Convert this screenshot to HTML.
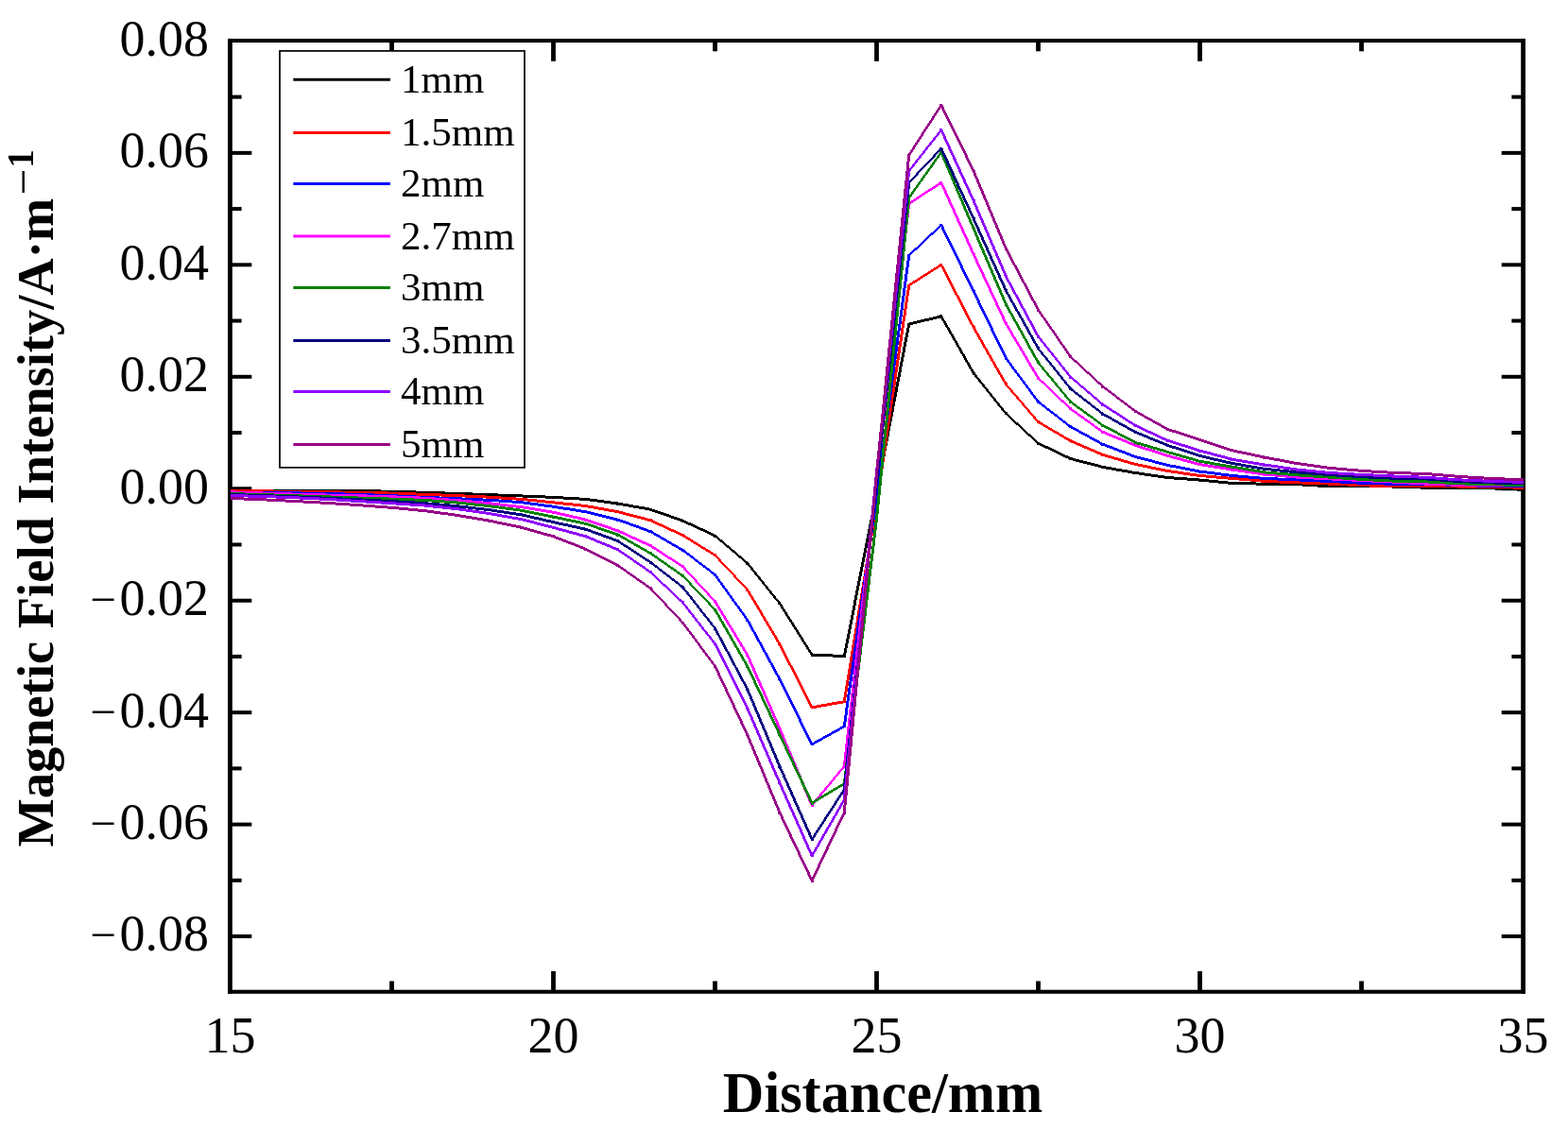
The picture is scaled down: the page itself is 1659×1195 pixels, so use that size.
<!DOCTYPE html>
<html><head><meta charset="utf-8"><style>
html,body{margin:0;padding:0;background:#fff;width:1659px;height:1195px;overflow:hidden}
svg{display:block}
text{font-family:"Liberation Serif","Times New Roman",serif;fill:#000}
.tk{font-size:54px}
.tt{font-size:60.3px;font-weight:bold}
.yt{font-size:54.47px;font-weight:bold}
.supm{font-size:49.6px}
.sup1{font-size:39px;font-weight:bold}
.lg{font-size:43px}
.tkm{font-size:49px}
</style></head><body>
<svg width="1659" height="1195" viewBox="0 0 1659 1195">
<rect x="241.0" y="40.95" width="1372.9999999999998" height="4.1" fill="#000"/>
<rect x="241.0" y="1047.7" width="1372.9999999999998" height="4.1" fill="#000"/>
<rect x="241.0" y="40.95" width="4.8" height="1010.85" fill="#000"/>
<rect x="1609.1999999999998" y="40.95" width="4.8" height="1010.85" fill="#000"/>
<rect x="243.4" y="989.08" width="22.9" height="4" fill="#000"/>
<rect x="1588.6999999999998" y="989.08" width="22.9" height="4" fill="#000"/>
<rect x="243.4" y="929.8500000000001" width="12.2" height="4" fill="#000"/>
<rect x="1599.3999999999999" y="929.8500000000001" width="12.2" height="4" fill="#000"/>
<rect x="243.4" y="870.62" width="22.9" height="4" fill="#000"/>
<rect x="1588.6999999999998" y="870.62" width="22.9" height="4" fill="#000"/>
<rect x="243.4" y="811.39" width="12.2" height="4" fill="#000"/>
<rect x="1599.3999999999999" y="811.39" width="12.2" height="4" fill="#000"/>
<rect x="243.4" y="752.16" width="22.9" height="4" fill="#000"/>
<rect x="1588.6999999999998" y="752.16" width="22.9" height="4" fill="#000"/>
<rect x="243.4" y="692.93" width="12.2" height="4" fill="#000"/>
<rect x="1599.3999999999999" y="692.93" width="12.2" height="4" fill="#000"/>
<rect x="243.4" y="633.7" width="22.9" height="4" fill="#000"/>
<rect x="1588.6999999999998" y="633.7" width="22.9" height="4" fill="#000"/>
<rect x="243.4" y="574.4699999999999" width="12.2" height="4" fill="#000"/>
<rect x="1599.3999999999999" y="574.4699999999999" width="12.2" height="4" fill="#000"/>
<rect x="243.4" y="515.24" width="22.9" height="4" fill="#000"/>
<rect x="1588.6999999999998" y="515.24" width="22.9" height="4" fill="#000"/>
<rect x="243.4" y="456.01" width="12.2" height="4" fill="#000"/>
<rect x="1599.3999999999999" y="456.01" width="12.2" height="4" fill="#000"/>
<rect x="243.4" y="396.78" width="22.9" height="4" fill="#000"/>
<rect x="1588.6999999999998" y="396.78" width="22.9" height="4" fill="#000"/>
<rect x="243.4" y="337.55" width="12.2" height="4" fill="#000"/>
<rect x="1599.3999999999999" y="337.55" width="12.2" height="4" fill="#000"/>
<rect x="243.4" y="278.32" width="22.9" height="4" fill="#000"/>
<rect x="1588.6999999999998" y="278.32" width="22.9" height="4" fill="#000"/>
<rect x="243.4" y="219.09" width="12.2" height="4" fill="#000"/>
<rect x="1599.3999999999999" y="219.09" width="12.2" height="4" fill="#000"/>
<rect x="243.4" y="159.86" width="22.9" height="4" fill="#000"/>
<rect x="1588.6999999999998" y="159.86" width="22.9" height="4" fill="#000"/>
<rect x="243.4" y="100.62999999999997" width="12.2" height="4" fill="#000"/>
<rect x="1599.3999999999999" y="100.62999999999997" width="12.2" height="4" fill="#000"/>
<rect x="412.1" y="1038.45" width="4.8" height="11.3" fill="#000"/>
<rect x="412.1" y="43.0" width="4.8" height="11.3" fill="#000"/>
<rect x="583.1" y="1027.95" width="4.8" height="21.8" fill="#000"/>
<rect x="583.1" y="43.0" width="4.8" height="21.8" fill="#000"/>
<rect x="754.1" y="1038.45" width="4.8" height="11.3" fill="#000"/>
<rect x="754.1" y="43.0" width="4.8" height="11.3" fill="#000"/>
<rect x="925.1" y="1027.95" width="4.8" height="21.8" fill="#000"/>
<rect x="925.1" y="43.0" width="4.8" height="21.8" fill="#000"/>
<rect x="1096.1" y="1038.45" width="4.8" height="11.3" fill="#000"/>
<rect x="1096.1" y="43.0" width="4.8" height="11.3" fill="#000"/>
<rect x="1267.1" y="1027.95" width="4.8" height="21.8" fill="#000"/>
<rect x="1267.1" y="43.0" width="4.8" height="21.8" fill="#000"/>
<rect x="1438.1" y="1038.45" width="4.8" height="11.3" fill="#000"/>
<rect x="1438.1" y="43.0" width="4.8" height="11.3" fill="#000"/>
<path d="M243.50 517.50L277.70 517.53L277.70 520.53L243.50 520.50ZM277.70 517.53L311.90 517.61L311.90 520.61L277.70 520.53ZM311.90 517.61L346.10 517.72L346.10 520.72L311.90 520.61ZM346.10 517.72L380.30 518.09L380.30 521.09L346.10 520.72ZM380.30 518.09L414.50 518.72L414.50 521.72L380.30 521.09ZM414.50 518.72L448.70 519.75L448.70 522.75L414.50 521.72ZM448.70 519.75L482.90 520.88L482.90 523.88L448.70 522.75ZM482.90 520.88L517.10 522.11L517.10 525.11L482.90 523.88ZM517.10 522.11L551.30 523.43L551.30 526.43L517.10 525.11ZM551.30 523.43L585.50 524.87L585.50 527.87L551.30 526.43ZM585.50 524.87L619.70 526.90L619.70 529.90L585.50 527.87ZM619.70 526.90L653.90 531.50L653.90 534.50L619.70 529.90ZM653.90 531.50L688.10 537.70L688.10 540.70L653.90 534.50ZM688.10 537.70L722.30 549.70L722.30 552.70L688.10 540.70ZM722.30 549.70L756.50 565.50L756.50 568.50L722.30 552.70ZM756.50 565.50L790.70 594.50L790.70 597.50L756.50 568.50ZM792.20 596.00L826.40 638.60L823.40 638.60L789.20 596.00ZM826.40 638.60L860.60 693.00L857.60 693.00L823.40 638.60ZM859.10 691.50L893.30 693.10L893.30 696.10L859.10 694.50ZM891.80 694.60L926.00 522.00L929.00 522.00L894.80 694.60ZM926.00 522.00L960.20 343.00L963.20 343.00L929.00 522.00ZM961.70 341.50L995.90 333.30L995.90 336.30L961.70 344.50ZM997.40 334.80L1031.60 395.00L1028.60 395.00L994.40 334.80ZM1031.60 395.00L1065.80 437.80L1062.80 437.80L1028.60 395.00ZM1064.30 436.30L1098.50 467.70L1098.50 470.70L1064.30 439.30ZM1098.50 467.70L1132.70 484.00L1132.70 487.00L1098.50 470.70ZM1132.70 484.00L1166.90 492.90L1166.90 495.90L1132.70 487.00ZM1166.90 492.90L1201.10 499.00L1201.10 502.00L1166.90 495.90ZM1201.10 499.00L1235.30 504.00L1235.30 507.00L1201.10 502.00ZM1235.30 504.00L1269.50 506.50L1269.50 509.50L1235.30 507.00ZM1269.50 506.50L1303.70 510.00L1303.70 513.00L1269.50 509.50ZM1303.70 510.00L1337.90 510.70L1337.90 513.70L1303.70 513.00ZM1337.90 510.70L1372.10 511.10L1372.10 514.10L1337.90 513.70ZM1372.10 511.10L1406.30 513.30L1406.30 516.30L1372.10 514.10ZM1406.30 513.30L1440.50 513.40L1440.50 516.40L1406.30 516.30ZM1440.50 513.40L1474.70 513.50L1474.70 516.50L1440.50 516.40ZM1474.70 513.50L1508.90 514.70L1508.90 517.70L1474.70 516.50ZM1508.90 514.70L1543.10 514.70L1543.10 517.70L1508.90 517.70ZM1543.10 514.70L1577.30 515.31L1577.30 518.31L1543.10 517.70ZM1577.30 515.31L1611.50 516.80L1611.50 519.80L1577.30 518.31ZM276.20 517.53L279.20 517.53L279.20 520.53L276.20 520.53ZM310.40 517.61L313.40 517.61L313.40 520.61L310.40 520.61ZM344.60 517.72L347.60 517.72L347.60 520.72L344.60 520.72ZM378.80 518.09L381.80 518.09L381.80 521.09L378.80 521.09ZM413.00 518.72L416.00 518.72L416.00 521.72L413.00 521.72ZM447.20 519.75L450.20 519.75L450.20 522.75L447.20 522.75ZM481.40 520.88L484.40 520.88L484.40 523.88L481.40 523.88ZM515.60 522.11L518.60 522.11L518.60 525.11L515.60 525.11ZM549.80 523.43L552.80 523.43L552.80 526.43L549.80 526.43ZM584.00 524.87L587.00 524.87L587.00 527.87L584.00 527.87ZM618.20 526.90L621.20 526.90L621.20 529.90L618.20 529.90ZM652.40 531.50L655.40 531.50L655.40 534.50L652.40 534.50ZM686.60 537.70L689.60 537.70L689.60 540.70L686.60 540.70ZM720.80 549.70L723.80 549.70L723.80 552.70L720.80 552.70ZM755.00 565.50L758.00 565.50L758.00 568.50L755.00 568.50ZM789.20 594.50L792.20 594.50L792.20 597.50L789.20 597.50ZM823.40 637.10L826.40 637.10L826.40 640.10L823.40 640.10ZM857.60 691.50L860.60 691.50L860.60 694.50L857.60 694.50ZM891.80 693.10L894.80 693.10L894.80 696.10L891.80 696.10ZM926.00 520.50L929.00 520.50L929.00 523.50L926.00 523.50ZM960.20 341.50L963.20 341.50L963.20 344.50L960.20 344.50ZM994.40 333.30L997.40 333.30L997.40 336.30L994.40 336.30ZM1028.60 393.50L1031.60 393.50L1031.60 396.50L1028.60 396.50ZM1062.80 436.30L1065.80 436.30L1065.80 439.30L1062.80 439.30ZM1097.00 467.70L1100.00 467.70L1100.00 470.70L1097.00 470.70ZM1131.20 484.00L1134.20 484.00L1134.20 487.00L1131.20 487.00ZM1165.40 492.90L1168.40 492.90L1168.40 495.90L1165.40 495.90ZM1199.60 499.00L1202.60 499.00L1202.60 502.00L1199.60 502.00ZM1233.80 504.00L1236.80 504.00L1236.80 507.00L1233.80 507.00ZM1268.00 506.50L1271.00 506.50L1271.00 509.50L1268.00 509.50ZM1302.20 510.00L1305.20 510.00L1305.20 513.00L1302.20 513.00ZM1336.40 510.70L1339.40 510.70L1339.40 513.70L1336.40 513.70ZM1370.60 511.10L1373.60 511.10L1373.60 514.10L1370.60 514.10ZM1404.80 513.30L1407.80 513.30L1407.80 516.30L1404.80 516.30ZM1439.00 513.40L1442.00 513.40L1442.00 516.40L1439.00 516.40ZM1473.20 513.50L1476.20 513.50L1476.20 516.50L1473.20 516.50ZM1507.40 514.70L1510.40 514.70L1510.40 517.70L1507.40 517.70ZM1541.60 514.70L1544.60 514.70L1544.60 517.70L1541.60 517.70ZM1575.80 515.31L1578.80 515.31L1578.80 518.31L1575.80 518.31Z" fill="#000000" shape-rendering="crispEdges"/>
<path d="M243.50 518.00L277.70 518.36L277.70 521.36L243.50 521.00ZM277.70 518.36L311.90 518.80L311.90 521.80L277.70 521.36ZM311.90 518.80L346.10 519.28L346.10 522.28L311.90 521.80ZM346.10 519.28L380.30 519.80L380.30 522.80L346.10 522.28ZM380.30 519.80L414.50 520.59L414.50 523.59L380.30 522.80ZM414.50 520.59L448.70 521.80L448.70 524.80L414.50 523.59ZM448.70 521.80L482.90 523.10L482.90 526.10L448.70 524.80ZM482.90 523.10L517.10 524.66L517.10 527.66L482.90 526.10ZM517.10 524.66L551.30 526.82L551.30 529.82L517.10 527.66ZM551.30 526.82L585.50 530.35L585.50 533.35L551.30 529.82ZM585.50 530.35L619.70 534.00L619.70 537.00L585.50 533.35ZM619.70 534.00L653.90 540.30L653.90 543.30L619.70 537.00ZM653.90 540.30L688.10 549.20L688.10 552.20L653.90 543.30ZM688.10 549.20L722.30 565.00L722.30 568.00L688.10 552.20ZM722.30 565.00L756.50 586.20L756.50 589.20L722.30 568.00ZM758.00 587.70L792.20 624.00L789.20 624.00L755.00 587.70ZM792.20 624.00L826.40 681.70L823.40 681.70L789.20 624.00ZM826.40 681.70L860.60 748.80L857.60 748.80L823.40 681.70ZM859.10 747.30L893.30 741.20L893.30 744.20L859.10 750.30ZM891.80 742.70L926.00 533.00L929.00 533.00L894.80 742.70ZM926.00 533.00L960.20 302.00L963.20 302.00L929.00 533.00ZM961.70 300.50L995.90 278.80L995.90 281.80L961.70 303.50ZM997.40 280.30L1031.60 346.60L1028.60 346.60L994.40 280.30ZM1031.60 346.60L1065.80 406.70L1062.80 406.70L1028.60 346.60ZM1065.80 406.70L1100.00 446.60L1097.00 446.60L1062.80 406.70ZM1098.50 445.10L1132.70 465.20L1132.70 468.20L1098.50 448.10ZM1132.70 465.20L1166.90 479.90L1166.90 482.90L1132.70 468.20ZM1166.90 479.90L1201.10 489.90L1201.10 492.90L1166.90 482.90ZM1201.10 489.90L1235.30 497.00L1235.30 500.00L1201.10 492.90ZM1235.30 497.00L1269.50 502.00L1269.50 505.00L1235.30 500.00ZM1269.50 502.00L1303.70 504.90L1303.70 507.90L1269.50 505.00ZM1303.70 504.90L1337.90 507.80L1337.90 510.80L1303.70 507.90ZM1337.90 507.80L1372.10 509.30L1372.10 512.30L1337.90 510.80ZM1372.10 509.30L1406.30 510.50L1406.30 513.50L1372.10 512.30ZM1406.30 510.50L1440.50 512.22L1440.50 515.22L1406.30 513.50ZM1440.50 512.22L1474.70 513.30L1474.70 516.30L1440.50 515.22ZM1474.70 513.30L1508.90 513.00L1508.90 516.00L1474.70 516.30ZM1508.90 513.00L1543.10 513.50L1543.10 516.50L1508.90 516.00ZM1543.10 513.50L1577.30 514.07L1577.30 517.07L1543.10 516.50ZM1577.30 514.07L1611.50 514.70L1611.50 517.70L1577.30 517.07ZM276.20 518.36L279.20 518.36L279.20 521.36L276.20 521.36ZM310.40 518.80L313.40 518.80L313.40 521.80L310.40 521.80ZM344.60 519.28L347.60 519.28L347.60 522.28L344.60 522.28ZM378.80 519.80L381.80 519.80L381.80 522.80L378.80 522.80ZM413.00 520.59L416.00 520.59L416.00 523.59L413.00 523.59ZM447.20 521.80L450.20 521.80L450.20 524.80L447.20 524.80ZM481.40 523.10L484.40 523.10L484.40 526.10L481.40 526.10ZM515.60 524.66L518.60 524.66L518.60 527.66L515.60 527.66ZM549.80 526.82L552.80 526.82L552.80 529.82L549.80 529.82ZM584.00 530.35L587.00 530.35L587.00 533.35L584.00 533.35ZM618.20 534.00L621.20 534.00L621.20 537.00L618.20 537.00ZM652.40 540.30L655.40 540.30L655.40 543.30L652.40 543.30ZM686.60 549.20L689.60 549.20L689.60 552.20L686.60 552.20ZM720.80 565.00L723.80 565.00L723.80 568.00L720.80 568.00ZM755.00 586.20L758.00 586.20L758.00 589.20L755.00 589.20ZM789.20 622.50L792.20 622.50L792.20 625.50L789.20 625.50ZM823.40 680.20L826.40 680.20L826.40 683.20L823.40 683.20ZM857.60 747.30L860.60 747.30L860.60 750.30L857.60 750.30ZM891.80 741.20L894.80 741.20L894.80 744.20L891.80 744.20ZM926.00 531.50L929.00 531.50L929.00 534.50L926.00 534.50ZM960.20 300.50L963.20 300.50L963.20 303.50L960.20 303.50ZM994.40 278.80L997.40 278.80L997.40 281.80L994.40 281.80ZM1028.60 345.10L1031.60 345.10L1031.60 348.10L1028.60 348.10ZM1062.80 405.20L1065.80 405.20L1065.80 408.20L1062.80 408.20ZM1097.00 445.10L1100.00 445.10L1100.00 448.10L1097.00 448.10ZM1131.20 465.20L1134.20 465.20L1134.20 468.20L1131.20 468.20ZM1165.40 479.90L1168.40 479.90L1168.40 482.90L1165.40 482.90ZM1199.60 489.90L1202.60 489.90L1202.60 492.90L1199.60 492.90ZM1233.80 497.00L1236.80 497.00L1236.80 500.00L1233.80 500.00ZM1268.00 502.00L1271.00 502.00L1271.00 505.00L1268.00 505.00ZM1302.20 504.90L1305.20 504.90L1305.20 507.90L1302.20 507.90ZM1336.40 507.80L1339.40 507.80L1339.40 510.80L1336.40 510.80ZM1370.60 509.30L1373.60 509.30L1373.60 512.30L1370.60 512.30ZM1404.80 510.50L1407.80 510.50L1407.80 513.50L1404.80 513.50ZM1439.00 512.22L1442.00 512.22L1442.00 515.22L1439.00 515.22ZM1473.20 513.30L1476.20 513.30L1476.20 516.30L1473.20 516.30ZM1507.40 513.00L1510.40 513.00L1510.40 516.00L1507.40 516.00ZM1541.60 513.50L1544.60 513.50L1544.60 516.50L1541.60 516.50ZM1575.80 514.07L1578.80 514.07L1578.80 517.07L1575.80 517.07Z" fill="#FF0000" shape-rendering="crispEdges"/>
<path d="M243.50 519.50L277.70 519.83L277.70 522.83L243.50 522.50ZM277.70 519.83L311.90 520.36L311.90 523.36L277.70 522.83ZM311.90 520.36L346.10 521.01L346.10 524.01L311.90 523.36ZM346.10 521.01L380.30 521.93L380.30 524.93L346.10 524.01ZM380.30 521.93L414.50 523.21L414.50 526.21L380.30 524.93ZM414.50 523.21L448.70 524.87L448.70 527.87L414.50 526.21ZM448.70 524.87L482.90 526.24L482.90 529.24L448.70 527.87ZM482.90 526.24L517.10 527.76L517.10 530.76L482.90 529.24ZM517.10 527.76L551.30 530.16L551.30 533.16L517.10 530.76ZM551.30 530.16L585.50 534.71L585.50 537.71L551.30 533.16ZM585.50 534.71L619.70 540.30L619.70 543.30L585.50 537.71ZM619.70 540.30L653.90 548.60L653.90 551.60L619.70 543.30ZM653.90 548.60L688.10 561.10L688.10 564.10L653.90 551.60ZM688.10 561.10L722.30 580.70L722.30 583.70L688.10 564.10ZM722.30 580.70L756.50 606.80L756.50 609.80L722.30 583.70ZM758.00 608.30L792.20 656.00L789.20 656.00L755.00 608.30ZM792.20 656.00L826.40 718.80L823.40 718.80L789.20 656.00ZM826.40 718.80L860.60 787.90L857.60 787.90L823.40 718.80ZM859.10 786.40L893.30 767.30L893.30 770.30L859.10 789.40ZM891.80 768.80L926.00 525.00L929.00 525.00L894.80 768.80ZM926.00 525.00L960.20 270.40L963.20 270.40L929.00 525.00ZM961.70 268.90L995.90 236.70L995.90 239.70L961.70 271.90ZM997.40 238.20L1031.60 308.30L1028.60 308.30L994.40 238.20ZM1031.60 308.30L1065.80 379.10L1062.80 379.10L1028.60 308.30ZM1065.80 379.10L1100.00 425.30L1097.00 425.30L1062.80 379.10ZM1098.50 423.80L1132.70 450.20L1132.70 453.20L1098.50 426.80ZM1132.70 450.20L1166.90 468.80L1166.90 471.80L1132.70 453.20ZM1166.90 468.80L1201.10 481.90L1201.10 484.90L1166.90 471.80ZM1201.10 481.90L1235.30 490.90L1235.30 493.90L1201.10 484.90ZM1235.30 490.90L1269.50 497.50L1269.50 500.50L1235.30 493.90ZM1269.50 497.50L1303.70 502.00L1303.70 505.00L1269.50 500.50ZM1303.70 502.00L1337.90 504.90L1337.90 507.90L1303.70 505.00ZM1337.90 504.90L1372.10 506.40L1372.10 509.40L1337.90 507.90ZM1372.10 506.40L1406.30 507.90L1406.30 510.90L1372.10 509.40ZM1406.30 507.90L1440.50 509.72L1440.50 512.72L1406.30 510.90ZM1440.50 509.72L1474.70 510.80L1474.70 513.80L1440.50 512.72ZM1474.70 510.80L1508.90 510.50L1508.90 513.50L1474.70 513.80ZM1508.90 510.50L1543.10 512.20L1543.10 515.20L1508.90 513.50ZM1543.10 512.20L1577.30 512.77L1577.30 515.77L1543.10 515.20ZM1577.30 512.77L1611.50 513.00L1611.50 516.00L1577.30 515.77ZM276.20 519.83L279.20 519.83L279.20 522.83L276.20 522.83ZM310.40 520.36L313.40 520.36L313.40 523.36L310.40 523.36ZM344.60 521.01L347.60 521.01L347.60 524.01L344.60 524.01ZM378.80 521.93L381.80 521.93L381.80 524.93L378.80 524.93ZM413.00 523.21L416.00 523.21L416.00 526.21L413.00 526.21ZM447.20 524.87L450.20 524.87L450.20 527.87L447.20 527.87ZM481.40 526.24L484.40 526.24L484.40 529.24L481.40 529.24ZM515.60 527.76L518.60 527.76L518.60 530.76L515.60 530.76ZM549.80 530.16L552.80 530.16L552.80 533.16L549.80 533.16ZM584.00 534.71L587.00 534.71L587.00 537.71L584.00 537.71ZM618.20 540.30L621.20 540.30L621.20 543.30L618.20 543.30ZM652.40 548.60L655.40 548.60L655.40 551.60L652.40 551.60ZM686.60 561.10L689.60 561.10L689.60 564.10L686.60 564.10ZM720.80 580.70L723.80 580.70L723.80 583.70L720.80 583.70ZM755.00 606.80L758.00 606.80L758.00 609.80L755.00 609.80ZM789.20 654.50L792.20 654.50L792.20 657.50L789.20 657.50ZM823.40 717.30L826.40 717.30L826.40 720.30L823.40 720.30ZM857.60 786.40L860.60 786.40L860.60 789.40L857.60 789.40ZM891.80 767.30L894.80 767.30L894.80 770.30L891.80 770.30ZM926.00 523.50L929.00 523.50L929.00 526.50L926.00 526.50ZM960.20 268.90L963.20 268.90L963.20 271.90L960.20 271.90ZM994.40 236.70L997.40 236.70L997.40 239.70L994.40 239.70ZM1028.60 306.80L1031.60 306.80L1031.60 309.80L1028.60 309.80ZM1062.80 377.60L1065.80 377.60L1065.80 380.60L1062.80 380.60ZM1097.00 423.80L1100.00 423.80L1100.00 426.80L1097.00 426.80ZM1131.20 450.20L1134.20 450.20L1134.20 453.20L1131.20 453.20ZM1165.40 468.80L1168.40 468.80L1168.40 471.80L1165.40 471.80ZM1199.60 481.90L1202.60 481.90L1202.60 484.90L1199.60 484.90ZM1233.80 490.90L1236.80 490.90L1236.80 493.90L1233.80 493.90ZM1268.00 497.50L1271.00 497.50L1271.00 500.50L1268.00 500.50ZM1302.20 502.00L1305.20 502.00L1305.20 505.00L1302.20 505.00ZM1336.40 504.90L1339.40 504.90L1339.40 507.90L1336.40 507.90ZM1370.60 506.40L1373.60 506.40L1373.60 509.40L1370.60 509.40ZM1404.80 507.90L1407.80 507.90L1407.80 510.90L1404.80 510.90ZM1439.00 509.72L1442.00 509.72L1442.00 512.72L1439.00 512.72ZM1473.20 510.80L1476.20 510.80L1476.20 513.80L1473.20 513.80ZM1507.40 510.50L1510.40 510.50L1510.40 513.50L1507.40 513.50ZM1541.60 512.20L1544.60 512.20L1544.60 515.20L1541.60 515.20ZM1575.80 512.77L1578.80 512.77L1578.80 515.77L1575.80 515.77Z" fill="#0000FF" shape-rendering="crispEdges"/>
<path d="M243.50 519.30L277.70 520.51L277.70 523.51L243.50 522.30ZM277.70 520.51L311.90 521.59L311.90 524.59L277.70 523.51ZM311.90 521.59L346.10 522.54L346.10 525.54L311.90 524.59ZM346.10 522.54L380.30 523.30L380.30 526.30L346.10 525.54ZM380.30 523.30L414.50 524.25L414.50 527.25L380.30 526.30ZM414.50 524.25L448.70 525.73L448.70 528.73L414.50 527.25ZM448.70 525.73L482.90 528.05L482.90 531.05L448.70 528.73ZM482.90 528.05L517.10 531.18L517.10 534.18L482.90 531.05ZM517.10 531.18L551.30 535.08L551.30 538.08L517.10 534.18ZM551.30 535.08L585.50 540.74L585.50 543.74L551.30 538.08ZM585.50 540.74L619.70 548.60L619.70 551.60L585.50 543.74ZM619.70 548.60L653.90 560.40L653.90 563.40L619.70 551.60ZM653.90 560.40L688.10 576.00L688.10 579.00L653.90 563.40ZM688.10 576.00L722.30 598.10L722.30 601.10L688.10 579.00ZM723.80 599.60L758.00 636.60L755.00 636.60L720.80 599.60ZM758.00 636.60L792.20 693.00L789.20 693.00L755.00 636.60ZM792.20 693.00L826.40 771.00L823.40 771.00L789.20 693.00ZM826.40 771.00L860.60 852.50L857.60 852.50L823.40 771.00ZM857.60 852.50L891.80 811.00L894.80 811.00L860.60 852.50ZM891.80 811.00L926.00 508.00L929.00 508.00L894.80 811.00ZM926.00 508.00L960.20 215.50L963.20 215.50L929.00 508.00ZM961.70 214.00L995.90 191.80L995.90 194.80L961.70 217.00ZM997.40 193.30L1031.60 269.20L1028.60 269.20L994.40 193.30ZM1031.60 269.20L1065.80 342.50L1062.80 342.50L1028.60 269.20ZM1065.80 342.50L1100.00 400.20L1097.00 400.20L1062.80 342.50ZM1098.50 398.70L1132.70 431.30L1132.70 434.30L1098.50 401.70ZM1132.70 431.30L1166.90 455.80L1166.90 458.80L1132.70 434.30ZM1166.90 455.80L1201.10 469.80L1201.10 472.80L1166.90 458.80ZM1201.10 469.80L1235.30 480.90L1235.30 483.90L1201.10 472.80ZM1235.30 480.90L1269.50 490.20L1269.50 493.20L1235.30 483.90ZM1269.50 490.20L1303.70 495.50L1303.70 498.50L1269.50 493.20ZM1303.70 495.50L1337.90 500.60L1337.90 503.60L1303.70 498.50ZM1337.90 500.60L1372.10 503.50L1372.10 506.50L1337.90 503.60ZM1372.10 503.50L1406.30 505.40L1406.30 508.40L1372.10 506.50ZM1406.30 505.40L1440.50 507.00L1440.50 510.00L1406.30 508.40ZM1440.50 507.00L1474.70 508.60L1474.70 511.60L1440.50 510.00ZM1474.70 508.60L1508.90 510.50L1508.90 513.50L1474.70 511.60ZM1508.90 510.50L1543.10 511.80L1543.10 514.80L1508.90 513.50ZM1543.10 511.80L1577.30 512.09L1577.30 515.09L1543.10 514.80ZM1577.30 512.09L1611.50 512.20L1611.50 515.20L1577.30 515.09ZM276.20 520.51L279.20 520.51L279.20 523.51L276.20 523.51ZM310.40 521.59L313.40 521.59L313.40 524.59L310.40 524.59ZM344.60 522.54L347.60 522.54L347.60 525.54L344.60 525.54ZM378.80 523.30L381.80 523.30L381.80 526.30L378.80 526.30ZM413.00 524.25L416.00 524.25L416.00 527.25L413.00 527.25ZM447.20 525.73L450.20 525.73L450.20 528.73L447.20 528.73ZM481.40 528.05L484.40 528.05L484.40 531.05L481.40 531.05ZM515.60 531.18L518.60 531.18L518.60 534.18L515.60 534.18ZM549.80 535.08L552.80 535.08L552.80 538.08L549.80 538.08ZM584.00 540.74L587.00 540.74L587.00 543.74L584.00 543.74ZM618.20 548.60L621.20 548.60L621.20 551.60L618.20 551.60ZM652.40 560.40L655.40 560.40L655.40 563.40L652.40 563.40ZM686.60 576.00L689.60 576.00L689.60 579.00L686.60 579.00ZM720.80 598.10L723.80 598.10L723.80 601.10L720.80 601.10ZM755.00 635.10L758.00 635.10L758.00 638.10L755.00 638.10ZM789.20 691.50L792.20 691.50L792.20 694.50L789.20 694.50ZM823.40 769.50L826.40 769.50L826.40 772.50L823.40 772.50ZM857.60 851.00L860.60 851.00L860.60 854.00L857.60 854.00ZM891.80 809.50L894.80 809.50L894.80 812.50L891.80 812.50ZM926.00 506.50L929.00 506.50L929.00 509.50L926.00 509.50ZM960.20 214.00L963.20 214.00L963.20 217.00L960.20 217.00ZM994.40 191.80L997.40 191.80L997.40 194.80L994.40 194.80ZM1028.60 267.70L1031.60 267.70L1031.60 270.70L1028.60 270.70ZM1062.80 341.00L1065.80 341.00L1065.80 344.00L1062.80 344.00ZM1097.00 398.70L1100.00 398.70L1100.00 401.70L1097.00 401.70ZM1131.20 431.30L1134.20 431.30L1134.20 434.30L1131.20 434.30ZM1165.40 455.80L1168.40 455.80L1168.40 458.80L1165.40 458.80ZM1199.60 469.80L1202.60 469.80L1202.60 472.80L1199.60 472.80ZM1233.80 480.90L1236.80 480.90L1236.80 483.90L1233.80 483.90ZM1268.00 490.20L1271.00 490.20L1271.00 493.20L1268.00 493.20ZM1302.20 495.50L1305.20 495.50L1305.20 498.50L1302.20 498.50ZM1336.40 500.60L1339.40 500.60L1339.40 503.60L1336.40 503.60ZM1370.60 503.50L1373.60 503.50L1373.60 506.50L1370.60 506.50ZM1404.80 505.40L1407.80 505.40L1407.80 508.40L1404.80 508.40ZM1439.00 507.00L1442.00 507.00L1442.00 510.00L1439.00 510.00ZM1473.20 508.60L1476.20 508.60L1476.20 511.60L1473.20 511.60ZM1507.40 510.50L1510.40 510.50L1510.40 513.50L1507.40 513.50ZM1541.60 511.80L1544.60 511.80L1544.60 514.80L1541.60 514.80ZM1575.80 512.09L1578.80 512.09L1578.80 515.09L1575.80 515.09Z" fill="#FF00FF" shape-rendering="crispEdges"/>
<path d="M243.50 521.00L277.70 522.12L277.70 525.12L243.50 524.00ZM277.70 522.12L311.90 523.24L311.90 526.24L277.70 525.12ZM311.90 523.24L346.10 524.38L346.10 527.38L311.90 526.24ZM346.10 524.38L380.30 525.54L380.30 528.54L346.10 527.38ZM380.30 525.54L414.50 526.63L414.50 529.63L380.30 528.54ZM414.50 526.63L448.70 527.91L448.70 530.91L414.50 529.63ZM448.70 527.91L482.90 530.45L482.90 533.45L448.70 530.91ZM482.90 530.45L517.10 534.08L517.10 537.08L482.90 533.45ZM517.10 534.08L551.30 538.66L551.30 541.66L517.10 537.08ZM551.30 538.66L585.50 545.56L585.50 548.56L551.30 541.66ZM585.50 545.56L619.70 552.80L619.70 555.80L585.50 548.56ZM619.70 552.80L653.90 564.50L653.90 567.50L619.70 555.80ZM653.90 564.50L688.10 584.00L688.10 587.00L653.90 567.50ZM688.10 584.00L722.30 607.90L722.30 610.90L688.10 587.00ZM723.80 609.40L758.00 645.30L755.00 645.30L720.80 609.40ZM758.00 645.30L792.20 705.00L789.20 705.00L755.00 645.30ZM792.20 705.00L826.40 777.50L823.40 777.50L789.20 705.00ZM826.40 777.50L860.60 850.00L857.60 850.00L823.40 777.50ZM859.10 848.50L893.30 828.00L893.30 831.00L859.10 851.50ZM891.80 829.50L926.00 549.00L929.00 549.00L894.80 829.50ZM926.00 549.00L960.20 209.40L963.20 209.40L929.00 549.00ZM960.20 209.40L994.40 161.20L997.40 161.20L963.20 209.40ZM997.40 161.20L1031.60 242.00L1028.60 242.00L994.40 161.20ZM1031.60 242.00L1065.80 322.00L1062.80 322.00L1028.60 242.00ZM1065.80 322.00L1100.00 383.90L1097.00 383.90L1062.80 322.00ZM1100.00 383.90L1134.20 425.30L1131.20 425.30L1097.00 383.90ZM1132.70 423.80L1166.90 448.80L1166.90 451.80L1132.70 426.80ZM1166.90 448.80L1201.10 466.80L1201.10 469.80L1166.90 451.80ZM1201.10 466.80L1235.30 476.90L1235.30 479.90L1201.10 469.80ZM1235.30 476.90L1269.50 486.80L1269.50 489.80L1235.30 479.90ZM1269.50 486.80L1303.70 492.60L1303.70 495.60L1269.50 489.80ZM1303.70 492.60L1337.90 498.40L1337.90 501.40L1303.70 495.60ZM1337.90 498.40L1372.10 501.30L1372.10 504.30L1337.90 501.40ZM1372.10 501.30L1406.30 503.60L1406.30 506.60L1372.10 504.30ZM1406.30 503.60L1440.50 505.87L1440.50 508.87L1406.30 506.60ZM1440.50 505.87L1474.70 507.60L1474.70 510.60L1440.50 508.87ZM1474.70 507.60L1508.90 508.40L1508.90 511.40L1474.70 510.60ZM1508.90 508.40L1543.10 510.30L1543.10 513.30L1508.90 511.40ZM1543.10 510.30L1577.30 511.33L1577.30 514.33L1543.10 513.30ZM1577.30 511.33L1611.50 511.80L1611.50 514.80L1577.30 514.33ZM276.20 522.12L279.20 522.12L279.20 525.12L276.20 525.12ZM310.40 523.24L313.40 523.24L313.40 526.24L310.40 526.24ZM344.60 524.38L347.60 524.38L347.60 527.38L344.60 527.38ZM378.80 525.54L381.80 525.54L381.80 528.54L378.80 528.54ZM413.00 526.63L416.00 526.63L416.00 529.63L413.00 529.63ZM447.20 527.91L450.20 527.91L450.20 530.91L447.20 530.91ZM481.40 530.45L484.40 530.45L484.40 533.45L481.40 533.45ZM515.60 534.08L518.60 534.08L518.60 537.08L515.60 537.08ZM549.80 538.66L552.80 538.66L552.80 541.66L549.80 541.66ZM584.00 545.56L587.00 545.56L587.00 548.56L584.00 548.56ZM618.20 552.80L621.20 552.80L621.20 555.80L618.20 555.80ZM652.40 564.50L655.40 564.50L655.40 567.50L652.40 567.50ZM686.60 584.00L689.60 584.00L689.60 587.00L686.60 587.00ZM720.80 607.90L723.80 607.90L723.80 610.90L720.80 610.90ZM755.00 643.80L758.00 643.80L758.00 646.80L755.00 646.80ZM789.20 703.50L792.20 703.50L792.20 706.50L789.20 706.50ZM823.40 776.00L826.40 776.00L826.40 779.00L823.40 779.00ZM857.60 848.50L860.60 848.50L860.60 851.50L857.60 851.50ZM891.80 828.00L894.80 828.00L894.80 831.00L891.80 831.00ZM926.00 547.50L929.00 547.50L929.00 550.50L926.00 550.50ZM960.20 207.90L963.20 207.90L963.20 210.90L960.20 210.90ZM994.40 159.70L997.40 159.70L997.40 162.70L994.40 162.70ZM1028.60 240.50L1031.60 240.50L1031.60 243.50L1028.60 243.50ZM1062.80 320.50L1065.80 320.50L1065.80 323.50L1062.80 323.50ZM1097.00 382.40L1100.00 382.40L1100.00 385.40L1097.00 385.40ZM1131.20 423.80L1134.20 423.80L1134.20 426.80L1131.20 426.80ZM1165.40 448.80L1168.40 448.80L1168.40 451.80L1165.40 451.80ZM1199.60 466.80L1202.60 466.80L1202.60 469.80L1199.60 469.80ZM1233.80 476.90L1236.80 476.90L1236.80 479.90L1233.80 479.90ZM1268.00 486.80L1271.00 486.80L1271.00 489.80L1268.00 489.80ZM1302.20 492.60L1305.20 492.60L1305.20 495.60L1302.20 495.60ZM1336.40 498.40L1339.40 498.40L1339.40 501.40L1336.40 501.40ZM1370.60 501.30L1373.60 501.30L1373.60 504.30L1370.60 504.30ZM1404.80 503.60L1407.80 503.60L1407.80 506.60L1404.80 506.60ZM1439.00 505.87L1442.00 505.87L1442.00 508.87L1439.00 508.87ZM1473.20 507.60L1476.20 507.60L1476.20 510.60L1473.20 510.60ZM1507.40 508.40L1510.40 508.40L1510.40 511.40L1507.40 511.40ZM1541.60 510.30L1544.60 510.30L1544.60 513.30L1541.60 513.30ZM1575.80 511.33L1578.80 511.33L1578.80 514.33L1575.80 514.33Z" fill="#008000" shape-rendering="crispEdges"/>
<path d="M243.50 522.00L277.70 523.07L277.70 526.07L243.50 525.00ZM277.70 523.07L311.90 524.33L311.90 527.33L277.70 526.07ZM311.90 524.33L346.10 525.74L346.10 528.74L311.90 527.33ZM346.10 525.74L380.30 527.39L380.30 530.39L346.10 528.74ZM380.30 527.39L414.50 529.09L414.50 532.09L380.30 530.39ZM414.50 529.09L448.70 531.08L448.70 534.08L414.50 532.09ZM448.70 531.08L482.90 534.11L482.90 537.11L448.70 534.08ZM482.90 534.11L517.10 538.12L517.10 541.12L482.90 537.11ZM517.10 538.12L551.30 543.31L551.30 546.31L517.10 541.12ZM551.30 543.31L585.50 551.20L585.50 554.20L551.30 546.31ZM585.50 551.20L619.70 558.70L619.70 561.70L585.50 554.20ZM619.70 558.70L653.90 571.20L653.90 574.20L619.70 561.70ZM653.90 571.20L688.10 593.50L688.10 596.50L653.90 574.20ZM688.10 593.50L722.30 619.90L722.30 622.90L688.10 596.50ZM723.80 621.40L758.00 665.00L755.00 665.00L720.80 621.40ZM758.00 665.00L792.20 729.40L789.20 729.40L755.00 665.00ZM792.20 729.40L826.40 811.00L823.40 811.00L789.20 729.40ZM826.40 811.00L860.60 888.50L857.60 888.50L823.40 811.00ZM857.60 888.50L891.80 835.70L894.80 835.70L860.60 888.50ZM891.80 835.70L926.00 510.00L929.00 510.00L894.80 835.70ZM926.00 510.00L960.20 193.30L963.20 193.30L929.00 510.00ZM960.20 193.30L994.40 157.20L997.40 157.20L963.20 193.30ZM997.40 157.20L1031.60 231.50L1028.60 231.50L994.40 157.20ZM1031.60 231.50L1065.80 307.50L1062.80 307.50L1028.60 231.50ZM1065.80 307.50L1100.00 368.90L1097.00 368.90L1062.80 307.50ZM1100.00 368.90L1134.20 411.50L1131.20 411.50L1097.00 368.90ZM1132.70 410.00L1166.90 436.70L1166.90 439.70L1132.70 413.00ZM1166.90 436.70L1201.10 455.80L1201.10 458.80L1166.90 439.70ZM1201.10 455.80L1235.30 469.80L1235.30 472.80L1201.10 458.80ZM1235.30 469.80L1269.50 481.00L1269.50 484.00L1235.30 472.80ZM1269.50 481.00L1303.70 489.00L1303.70 492.00L1269.50 484.00ZM1303.70 489.00L1337.90 494.80L1337.90 497.80L1303.70 492.00ZM1337.90 494.80L1372.10 498.40L1372.10 501.40L1337.90 497.80ZM1372.10 498.40L1406.30 501.00L1406.30 504.00L1372.10 501.40ZM1406.30 501.00L1440.50 503.16L1440.50 506.16L1406.30 504.00ZM1440.50 503.16L1474.70 504.70L1474.70 507.70L1440.50 506.16ZM1474.70 504.70L1508.90 505.40L1508.90 508.40L1474.70 507.70ZM1508.90 505.40L1543.10 508.00L1543.10 511.00L1508.90 508.40ZM1543.10 508.00L1577.30 509.44L1577.30 512.44L1543.10 511.00ZM1577.30 509.44L1611.50 510.10L1611.50 513.10L1577.30 512.44ZM276.20 523.07L279.20 523.07L279.20 526.07L276.20 526.07ZM310.40 524.33L313.40 524.33L313.40 527.33L310.40 527.33ZM344.60 525.74L347.60 525.74L347.60 528.74L344.60 528.74ZM378.80 527.39L381.80 527.39L381.80 530.39L378.80 530.39ZM413.00 529.09L416.00 529.09L416.00 532.09L413.00 532.09ZM447.20 531.08L450.20 531.08L450.20 534.08L447.20 534.08ZM481.40 534.11L484.40 534.11L484.40 537.11L481.40 537.11ZM515.60 538.12L518.60 538.12L518.60 541.12L515.60 541.12ZM549.80 543.31L552.80 543.31L552.80 546.31L549.80 546.31ZM584.00 551.20L587.00 551.20L587.00 554.20L584.00 554.20ZM618.20 558.70L621.20 558.70L621.20 561.70L618.20 561.70ZM652.40 571.20L655.40 571.20L655.40 574.20L652.40 574.20ZM686.60 593.50L689.60 593.50L689.60 596.50L686.60 596.50ZM720.80 619.90L723.80 619.90L723.80 622.90L720.80 622.90ZM755.00 663.50L758.00 663.50L758.00 666.50L755.00 666.50ZM789.20 727.90L792.20 727.90L792.20 730.90L789.20 730.90ZM823.40 809.50L826.40 809.50L826.40 812.50L823.40 812.50ZM857.60 887.00L860.60 887.00L860.60 890.00L857.60 890.00ZM891.80 834.20L894.80 834.20L894.80 837.20L891.80 837.20ZM926.00 508.50L929.00 508.50L929.00 511.50L926.00 511.50ZM960.20 191.80L963.20 191.80L963.20 194.80L960.20 194.80ZM994.40 155.70L997.40 155.70L997.40 158.70L994.40 158.70ZM1028.60 230.00L1031.60 230.00L1031.60 233.00L1028.60 233.00ZM1062.80 306.00L1065.80 306.00L1065.80 309.00L1062.80 309.00ZM1097.00 367.40L1100.00 367.40L1100.00 370.40L1097.00 370.40ZM1131.20 410.00L1134.20 410.00L1134.20 413.00L1131.20 413.00ZM1165.40 436.70L1168.40 436.70L1168.40 439.70L1165.40 439.70ZM1199.60 455.80L1202.60 455.80L1202.60 458.80L1199.60 458.80ZM1233.80 469.80L1236.80 469.80L1236.80 472.80L1233.80 472.80ZM1268.00 481.00L1271.00 481.00L1271.00 484.00L1268.00 484.00ZM1302.20 489.00L1305.20 489.00L1305.20 492.00L1302.20 492.00ZM1336.40 494.80L1339.40 494.80L1339.40 497.80L1336.40 497.80ZM1370.60 498.40L1373.60 498.40L1373.60 501.40L1370.60 501.40ZM1404.80 501.00L1407.80 501.00L1407.80 504.00L1404.80 504.00ZM1439.00 503.16L1442.00 503.16L1442.00 506.16L1439.00 506.16ZM1473.20 504.70L1476.20 504.70L1476.20 507.70L1473.20 507.70ZM1507.40 505.40L1510.40 505.40L1510.40 508.40L1507.40 508.40ZM1541.60 508.00L1544.60 508.00L1544.60 511.00L1541.60 511.00ZM1575.80 509.44L1578.80 509.44L1578.80 512.44L1575.80 512.44Z" fill="#000080" shape-rendering="crispEdges"/>
<path d="M243.50 523.00L277.70 523.94L277.70 526.94L243.50 526.00ZM277.70 523.94L311.90 525.28L311.90 528.28L277.70 526.94ZM311.90 525.28L346.10 526.88L346.10 529.88L311.90 528.28ZM346.10 526.88L380.30 529.08L380.30 532.08L346.10 529.88ZM380.30 529.08L414.50 531.20L414.50 534.20L380.30 532.08ZM414.50 531.20L448.70 533.48L448.70 536.48L414.50 534.20ZM448.70 533.48L482.90 537.14L482.90 540.14L448.70 536.48ZM482.90 537.14L517.10 542.00L517.10 545.00L482.90 540.14ZM517.10 542.00L551.30 548.09L551.30 551.09L517.10 545.00ZM551.30 548.09L585.50 556.91L585.50 559.91L551.30 551.09ZM585.50 556.91L619.70 566.20L619.70 569.20L585.50 559.91ZM619.70 566.20L653.90 580.40L653.90 583.40L619.70 569.20ZM653.90 580.40L688.10 604.00L688.10 607.00L653.90 583.40ZM688.10 604.00L722.30 636.20L722.30 639.20L688.10 607.00ZM723.80 637.70L758.00 681.50L755.00 681.50L720.80 637.70ZM758.00 681.50L792.20 749.50L789.20 749.50L755.00 681.50ZM792.20 749.50L826.40 828.50L823.40 828.50L789.20 749.50ZM826.40 828.50L860.60 905.80L857.60 905.80L823.40 828.50ZM857.60 905.80L891.80 846.50L894.80 846.50L860.60 905.80ZM891.80 846.50L926.00 500.00L929.00 500.00L894.80 846.50ZM926.00 500.00L960.20 181.00L963.20 181.00L929.00 500.00ZM960.20 181.00L994.40 137.60L997.40 137.60L963.20 181.00ZM997.40 137.60L1031.60 212.50L1028.60 212.50L994.40 137.60ZM1031.60 212.50L1065.80 292.50L1062.80 292.50L1028.60 212.50ZM1065.80 292.50L1100.00 356.30L1097.00 356.30L1062.80 292.50ZM1100.00 356.30L1134.20 399.00L1131.20 399.00L1097.00 356.30ZM1132.70 397.50L1166.90 426.70L1166.90 429.70L1132.70 400.50ZM1166.90 426.70L1201.10 448.80L1201.10 451.80L1166.90 429.70ZM1201.10 448.80L1235.30 464.80L1235.30 467.80L1201.10 451.80ZM1235.30 464.80L1269.50 475.50L1269.50 478.50L1235.30 467.80ZM1269.50 475.50L1303.70 484.70L1303.70 487.70L1269.50 478.50ZM1303.70 484.70L1337.90 490.50L1337.90 493.50L1303.70 487.70ZM1337.90 490.50L1372.10 495.50L1372.10 498.50L1337.90 493.50ZM1372.10 495.50L1406.30 498.90L1406.30 501.90L1372.10 498.50ZM1406.30 498.90L1440.50 500.94L1440.50 503.94L1406.30 501.90ZM1440.50 500.94L1474.70 502.50L1474.70 505.50L1440.50 503.94ZM1474.70 502.50L1508.90 503.80L1508.90 506.80L1474.70 505.50ZM1508.90 503.80L1543.10 506.30L1543.10 509.30L1508.90 506.80ZM1543.10 506.30L1577.30 507.88L1577.30 510.88L1543.10 509.30ZM1577.30 507.88L1611.50 508.80L1611.50 511.80L1577.30 510.88ZM276.20 523.94L279.20 523.94L279.20 526.94L276.20 526.94ZM310.40 525.28L313.40 525.28L313.40 528.28L310.40 528.28ZM344.60 526.88L347.60 526.88L347.60 529.88L344.60 529.88ZM378.80 529.08L381.80 529.08L381.80 532.08L378.80 532.08ZM413.00 531.20L416.00 531.20L416.00 534.20L413.00 534.20ZM447.20 533.48L450.20 533.48L450.20 536.48L447.20 536.48ZM481.40 537.14L484.40 537.14L484.40 540.14L481.40 540.14ZM515.60 542.00L518.60 542.00L518.60 545.00L515.60 545.00ZM549.80 548.09L552.80 548.09L552.80 551.09L549.80 551.09ZM584.00 556.91L587.00 556.91L587.00 559.91L584.00 559.91ZM618.20 566.20L621.20 566.20L621.20 569.20L618.20 569.20ZM652.40 580.40L655.40 580.40L655.40 583.40L652.40 583.40ZM686.60 604.00L689.60 604.00L689.60 607.00L686.60 607.00ZM720.80 636.20L723.80 636.20L723.80 639.20L720.80 639.20ZM755.00 680.00L758.00 680.00L758.00 683.00L755.00 683.00ZM789.20 748.00L792.20 748.00L792.20 751.00L789.20 751.00ZM823.40 827.00L826.40 827.00L826.40 830.00L823.40 830.00ZM857.60 904.30L860.60 904.30L860.60 907.30L857.60 907.30ZM891.80 845.00L894.80 845.00L894.80 848.00L891.80 848.00ZM926.00 498.50L929.00 498.50L929.00 501.50L926.00 501.50ZM960.20 179.50L963.20 179.50L963.20 182.50L960.20 182.50ZM994.40 136.10L997.40 136.10L997.40 139.10L994.40 139.10ZM1028.60 211.00L1031.60 211.00L1031.60 214.00L1028.60 214.00ZM1062.80 291.00L1065.80 291.00L1065.80 294.00L1062.80 294.00ZM1097.00 354.80L1100.00 354.80L1100.00 357.80L1097.00 357.80ZM1131.20 397.50L1134.20 397.50L1134.20 400.50L1131.20 400.50ZM1165.40 426.70L1168.40 426.70L1168.40 429.70L1165.40 429.70ZM1199.60 448.80L1202.60 448.80L1202.60 451.80L1199.60 451.80ZM1233.80 464.80L1236.80 464.80L1236.80 467.80L1233.80 467.80ZM1268.00 475.50L1271.00 475.50L1271.00 478.50L1268.00 478.50ZM1302.20 484.70L1305.20 484.70L1305.20 487.70L1302.20 487.70ZM1336.40 490.50L1339.40 490.50L1339.40 493.50L1336.40 493.50ZM1370.60 495.50L1373.60 495.50L1373.60 498.50L1370.60 498.50ZM1404.80 498.90L1407.80 498.90L1407.80 501.90L1404.80 501.90ZM1439.00 500.94L1442.00 500.94L1442.00 503.94L1439.00 503.94ZM1473.20 502.50L1476.20 502.50L1476.20 505.50L1473.20 505.50ZM1507.40 503.80L1510.40 503.80L1510.40 506.80L1507.40 506.80ZM1541.60 506.30L1544.60 506.30L1544.60 509.30L1541.60 509.30ZM1575.80 507.88L1578.80 507.88L1578.80 510.88L1575.80 510.88Z" fill="#8F00FF" shape-rendering="crispEdges"/>
<path d="M243.50 525.90L277.70 527.30L277.70 530.30L243.50 528.90ZM277.70 527.30L311.90 529.00L311.90 532.00L277.70 530.30ZM311.90 529.00L346.10 530.92L346.10 533.92L311.90 532.00ZM346.10 530.92L380.30 533.21L380.30 536.21L346.10 533.92ZM380.30 533.21L414.50 535.82L414.50 538.82L380.30 536.21ZM414.50 535.82L448.70 539.12L448.70 542.12L414.50 538.82ZM448.70 539.12L482.90 543.74L482.90 546.74L448.70 542.12ZM482.90 543.74L517.10 549.57L517.10 552.57L482.90 546.74ZM517.10 549.57L551.30 556.67L551.30 559.67L517.10 552.57ZM551.30 556.67L585.50 566.35L585.50 569.35L551.30 559.67ZM585.50 566.35L619.70 579.60L619.70 582.60L585.50 569.35ZM619.70 579.60L653.90 597.20L653.90 600.20L619.70 582.60ZM653.90 597.20L688.10 621.00L688.10 624.00L653.90 600.20ZM689.60 622.50L723.80 659.00L720.80 659.00L686.60 622.50ZM723.80 659.00L758.00 705.00L755.00 705.00L720.80 659.00ZM758.00 705.00L792.20 777.60L789.20 777.60L755.00 705.00ZM792.20 777.60L826.40 860.00L823.40 860.00L789.20 777.60ZM826.40 860.00L860.60 932.10L857.60 932.10L823.40 860.00ZM857.60 932.10L891.80 860.00L894.80 860.00L860.60 932.10ZM891.80 860.00L926.00 502.00L929.00 502.00L894.80 860.00ZM926.00 502.00L960.20 164.20L963.20 164.20L929.00 502.00ZM960.20 164.20L994.40 111.20L997.40 111.20L963.20 164.20ZM997.40 111.20L1031.60 181.00L1028.60 181.00L994.40 111.20ZM1031.60 181.00L1065.80 263.00L1062.80 263.00L1028.60 181.00ZM1065.80 263.00L1100.00 328.00L1097.00 328.00L1062.80 263.00ZM1100.00 328.00L1134.20 377.60L1131.20 377.60L1097.00 328.00ZM1132.70 376.10L1166.90 407.60L1166.90 410.60L1132.70 379.10ZM1166.90 407.60L1201.10 433.70L1201.10 436.70L1166.90 410.60ZM1201.10 433.70L1235.30 452.80L1235.30 455.80L1201.10 436.70ZM1235.30 452.80L1269.50 464.00L1269.50 467.00L1235.30 455.80ZM1269.50 464.00L1303.70 475.30L1303.70 478.30L1269.50 467.00ZM1303.70 475.30L1337.90 482.50L1337.90 485.50L1303.70 478.30ZM1337.90 482.50L1372.10 489.00L1372.10 492.00L1337.90 485.50ZM1372.10 489.00L1406.30 493.80L1406.30 496.80L1372.10 492.00ZM1406.30 493.80L1440.50 496.85L1440.50 499.85L1406.30 496.80ZM1440.50 496.85L1474.70 498.90L1474.70 501.90L1440.50 499.85ZM1474.70 498.90L1508.90 500.00L1508.90 503.00L1474.70 501.90ZM1508.90 500.00L1543.10 502.90L1543.10 505.90L1508.90 503.00ZM1543.10 502.90L1577.30 504.92L1577.30 507.92L1543.10 505.90ZM1577.30 504.92L1611.50 506.30L1611.50 509.30L1577.30 507.92ZM276.20 527.30L279.20 527.30L279.20 530.30L276.20 530.30ZM310.40 529.00L313.40 529.00L313.40 532.00L310.40 532.00ZM344.60 530.92L347.60 530.92L347.60 533.92L344.60 533.92ZM378.80 533.21L381.80 533.21L381.80 536.21L378.80 536.21ZM413.00 535.82L416.00 535.82L416.00 538.82L413.00 538.82ZM447.20 539.12L450.20 539.12L450.20 542.12L447.20 542.12ZM481.40 543.74L484.40 543.74L484.40 546.74L481.40 546.74ZM515.60 549.57L518.60 549.57L518.60 552.57L515.60 552.57ZM549.80 556.67L552.80 556.67L552.80 559.67L549.80 559.67ZM584.00 566.35L587.00 566.35L587.00 569.35L584.00 569.35ZM618.20 579.60L621.20 579.60L621.20 582.60L618.20 582.60ZM652.40 597.20L655.40 597.20L655.40 600.20L652.40 600.20ZM686.60 621.00L689.60 621.00L689.60 624.00L686.60 624.00ZM720.80 657.50L723.80 657.50L723.80 660.50L720.80 660.50ZM755.00 703.50L758.00 703.50L758.00 706.50L755.00 706.50ZM789.20 776.10L792.20 776.10L792.20 779.10L789.20 779.10ZM823.40 858.50L826.40 858.50L826.40 861.50L823.40 861.50ZM857.60 930.60L860.60 930.60L860.60 933.60L857.60 933.60ZM891.80 858.50L894.80 858.50L894.80 861.50L891.80 861.50ZM926.00 500.50L929.00 500.50L929.00 503.50L926.00 503.50ZM960.20 162.70L963.20 162.70L963.20 165.70L960.20 165.70ZM994.40 109.70L997.40 109.70L997.40 112.70L994.40 112.70ZM1028.60 179.50L1031.60 179.50L1031.60 182.50L1028.60 182.50ZM1062.80 261.50L1065.80 261.50L1065.80 264.50L1062.80 264.50ZM1097.00 326.50L1100.00 326.50L1100.00 329.50L1097.00 329.50ZM1131.20 376.10L1134.20 376.10L1134.20 379.10L1131.20 379.10ZM1165.40 407.60L1168.40 407.60L1168.40 410.60L1165.40 410.60ZM1199.60 433.70L1202.60 433.70L1202.60 436.70L1199.60 436.70ZM1233.80 452.80L1236.80 452.80L1236.80 455.80L1233.80 455.80ZM1268.00 464.00L1271.00 464.00L1271.00 467.00L1268.00 467.00ZM1302.20 475.30L1305.20 475.30L1305.20 478.30L1302.20 478.30ZM1336.40 482.50L1339.40 482.50L1339.40 485.50L1336.40 485.50ZM1370.60 489.00L1373.60 489.00L1373.60 492.00L1370.60 492.00ZM1404.80 493.80L1407.80 493.80L1407.80 496.80L1404.80 496.80ZM1439.00 496.85L1442.00 496.85L1442.00 499.85L1439.00 499.85ZM1473.20 498.90L1476.20 498.90L1476.20 501.90L1473.20 501.90ZM1507.40 500.00L1510.40 500.00L1510.40 503.00L1507.40 503.00ZM1541.60 502.90L1544.60 502.90L1544.60 505.90L1541.60 505.90ZM1575.80 504.92L1578.80 504.92L1578.80 507.92L1575.80 507.92Z" fill="#980088" shape-rendering="crispEdges"/>
<text x="95.4" y="1006.4" class="tkm">−</text>
<text x="221" y="1006.4" text-anchor="end" class="tk">0.08</text>
<text x="95.4" y="887.9" class="tkm">−</text>
<text x="221" y="887.9" text-anchor="end" class="tk">0.06</text>
<text x="95.4" y="769.5" class="tkm">−</text>
<text x="221" y="769.5" text-anchor="end" class="tk">0.04</text>
<text x="95.4" y="651.0" class="tkm">−</text>
<text x="221" y="651.0" text-anchor="end" class="tk">0.02</text>
<text x="221" y="532.5" text-anchor="end" class="tk">0.00</text>
<text x="221" y="414.1" text-anchor="end" class="tk">0.02</text>
<text x="221" y="295.6" text-anchor="end" class="tk">0.04</text>
<text x="221" y="177.2" text-anchor="end" class="tk">0.06</text>
<text x="221" y="58.7" text-anchor="end" class="tk">0.08</text>
<text x="243.5" y="1113.7" text-anchor="middle" class="tk">15</text>
<text x="585.5" y="1113.7" text-anchor="middle" class="tk">20</text>
<text x="927.5" y="1113.7" text-anchor="middle" class="tk">25</text>
<text x="1269.5" y="1113.7" text-anchor="middle" class="tk">30</text>
<text x="1611.5" y="1113.7" text-anchor="middle" class="tk">35</text>
<text x="934" y="1177.3" text-anchor="middle" class="tt">Distance/mm</text>
<text transform="translate(55.7,896.6) rotate(-90)" class="yt">Magnetic Field Intensity/A·m</text>
<text transform="translate(41.3,206.7) rotate(-90)" class="supm">−</text>
<text transform="translate(35.1,177.7) rotate(-90)" class="sup1">1</text>
<rect x="296" y="53.9" width="259" height="441" fill="#fff" stroke="#000" stroke-width="1.7"/>
<line x1="310.3" y1="84.3" x2="412.9" y2="84.3" stroke="#000000" stroke-width="3"/>
<text x="424" y="98.1" class="lg">1mm</text>
<line x1="310.3" y1="140.4" x2="412.9" y2="140.4" stroke="#FF0000" stroke-width="3"/>
<text x="424" y="154.2" class="lg">1.5mm</text>
<line x1="310.3" y1="194.5" x2="412.9" y2="194.5" stroke="#0000FF" stroke-width="3"/>
<text x="424" y="208.3" class="lg">2mm</text>
<line x1="310.3" y1="250.1" x2="412.9" y2="250.1" stroke="#FF00FF" stroke-width="3"/>
<text x="424" y="263.9" class="lg">2.7mm</text>
<line x1="310.3" y1="304.4" x2="412.9" y2="304.4" stroke="#008000" stroke-width="3"/>
<text x="424" y="318.2" class="lg">3mm</text>
<line x1="310.3" y1="360.5" x2="412.9" y2="360.5" stroke="#000080" stroke-width="3"/>
<text x="424" y="374.3" class="lg">3.5mm</text>
<line x1="310.3" y1="414.5" x2="412.9" y2="414.5" stroke="#8F00FF" stroke-width="3"/>
<text x="424" y="428.3" class="lg">4mm</text>
<line x1="310.3" y1="470.6" x2="412.9" y2="470.6" stroke="#980088" stroke-width="3"/>
<text x="424" y="484.4" class="lg">5mm</text>
</svg>
</body></html>
